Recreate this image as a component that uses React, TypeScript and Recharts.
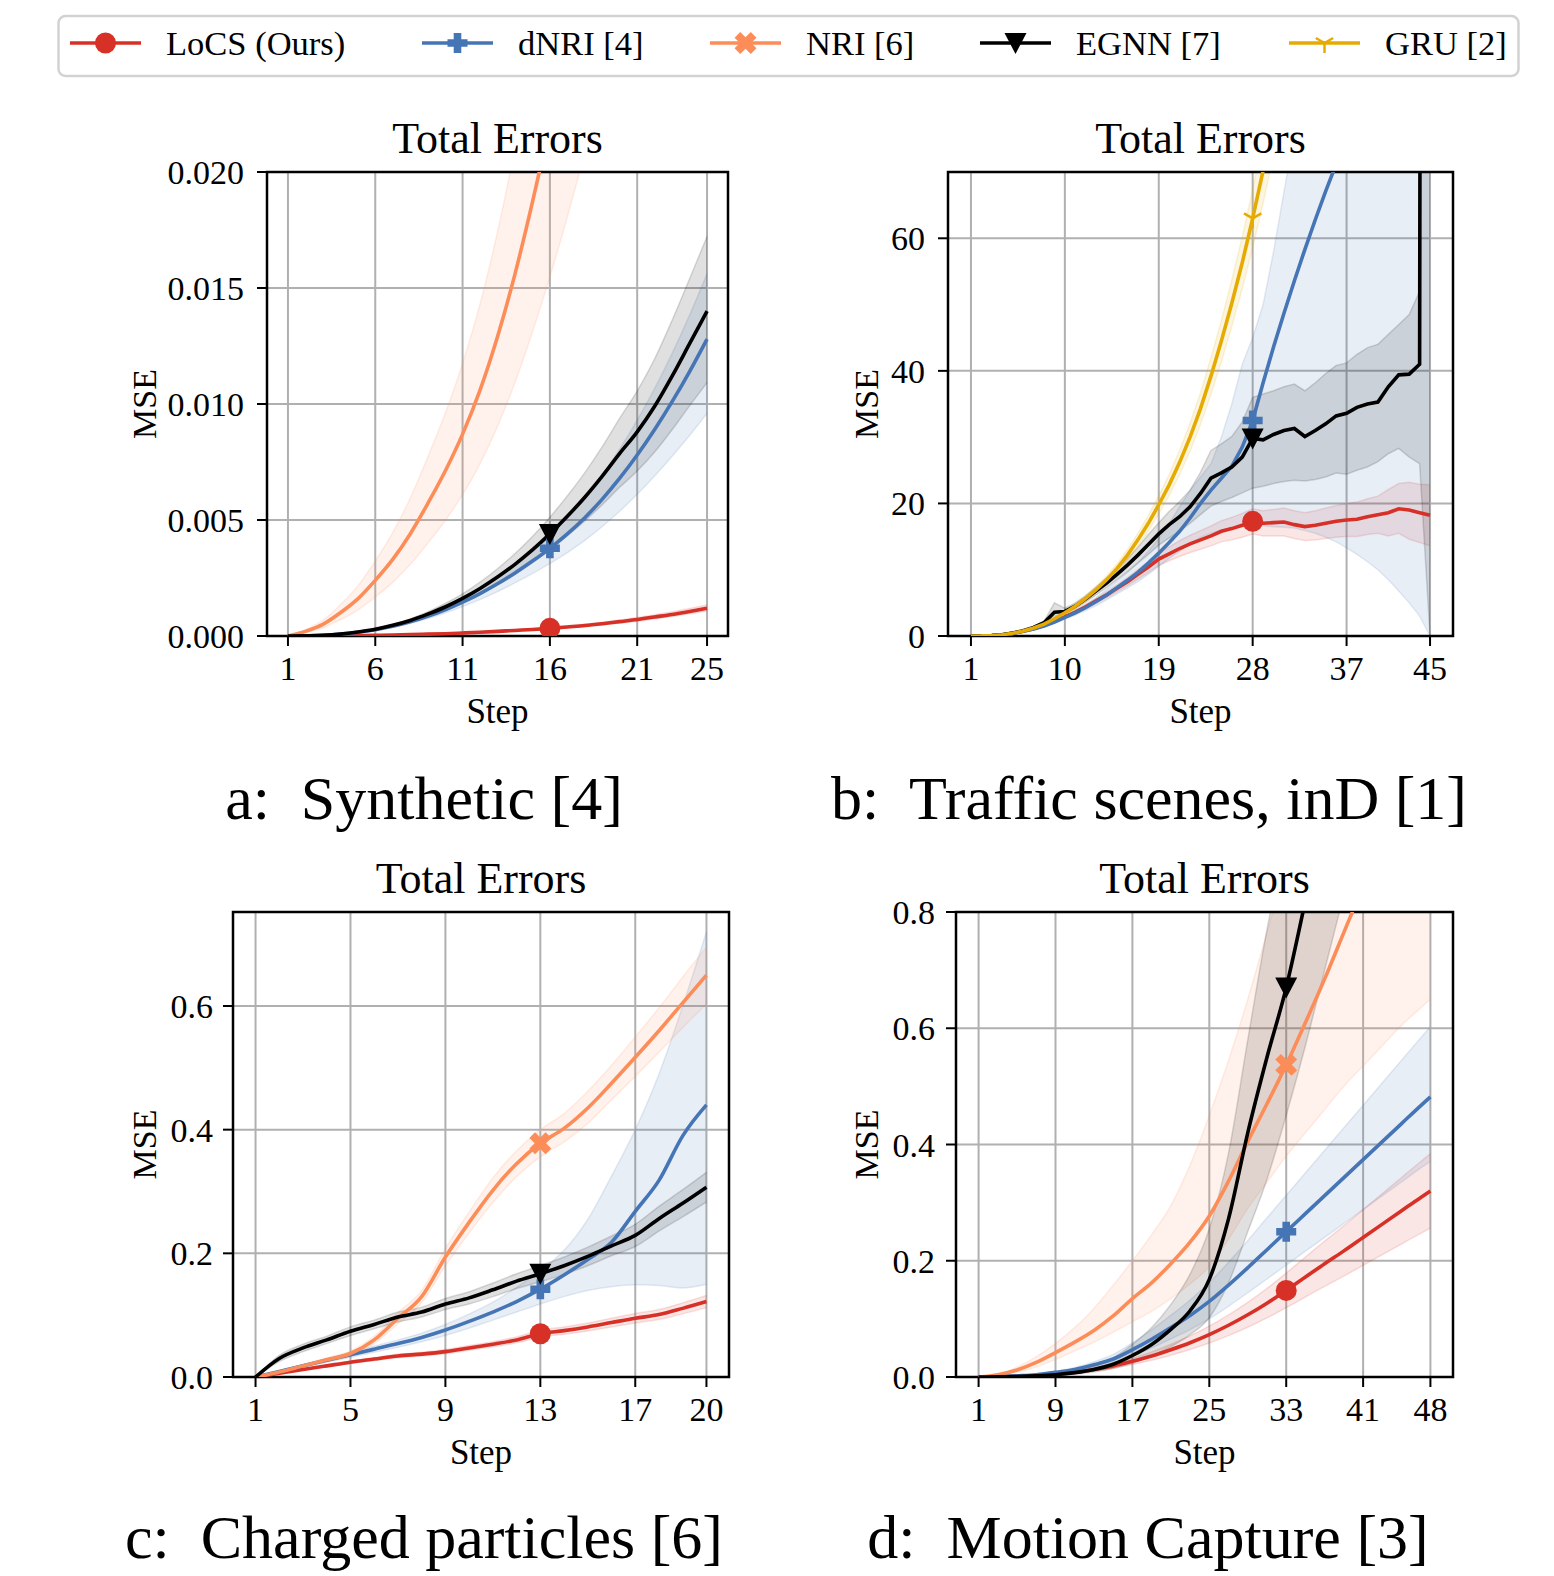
import React from "react";
import {
  Area,
  CartesianGrid,
  ComposedChart,
  Line,
  ReferenceArea,
  XAxis,
  YAxis
} from "recharts";

const FONT = "'Liberation Serif', 'DejaVu Serif', serif";

// ---- series look ----
const SERIES_KEYS = ["locs", "dnri", "nri", "egnn", "gru"];
const SERIES_NAMES = ["LoCS (Ours)", "dNRI [4]", "NRI [6]", "EGNN [7]", "GRU [2]"];
const SERIES_COLORS = ["#d73027", "#4575b4", "#fc8d59", "#000000", "#e6ab02"];
const SERIES_MARKERS = ["circle", "plus", "x", "tri", "y"];

// ---- a: Synthetic ----
const A_STEPS = [1, 2, 3, 4, 5, 6, 7, 8, 9, 10, 11, 12, 13, 14, 15, 16, 17, 18, 19, 20, 21, 22, 23, 24, 25];
const A_LOCS = [0, 0.000002, 0.000005, 0.00001, 0.000018, 0.00003, 0.000045, 0.00006, 0.00008, 0.0001, 0.00013, 0.00016, 0.0002, 0.00024, 0.00028, 0.00033, 0.00039, 0.00045, 0.00053, 0.00062, 0.00071, 0.00082, 0.00093, 0.00106, 0.0012];
const A_LOCS_LO = [0, 0.000002, 0.000004, 0.000009, 0.000016, 0.000027, 0.00004, 0.000054, 0.000072, 0.00009, 0.000117, 0.000144, 0.00018, 0.000216, 0.000252, 0.000297, 0.000351, 0.000405, 0.000477, 0.000558, 0.000639, 0.000738, 0.000837, 0.000954, 0.00108];
const A_LOCS_HI = [0, 0.000002, 0.000006, 0.000011, 0.00002, 0.000034, 0.00005, 0.000067, 0.00009, 0.000112, 0.000146, 0.000179, 0.000224, 0.000269, 0.000314, 0.00037, 0.000437, 0.000504, 0.000594, 0.000694, 0.000795, 0.000918, 0.00104, 0.00119, 0.00134];
const A_DNRI = [0, 0.00001, 0.00003, 0.00008, 0.00016, 0.00027, 0.00042, 0.00061, 0.00085, 0.00113, 0.00146, 0.00183, 0.00225, 0.00272, 0.00323, 0.00378, 0.0044, 0.0051, 0.0059, 0.0068, 0.0078, 0.0089, 0.0101, 0.0114, 0.0128];
const A_DNRI_LO = [0, 0.00001, 0.00003, 0.00007, 0.00015, 0.00025, 0.00038, 0.00054, 0.00075, 0.00099, 0.00127, 0.00157, 0.00191, 0.00229, 0.00269, 0.00312, 0.00359, 0.00412, 0.00472, 0.00538, 0.00611, 0.0069, 0.00775, 0.00864, 0.0096];
const A_DNRI_HI = [0, 0.00001, 0.00003, 0.00009, 0.00017, 0.00029, 0.00046, 0.00067, 0.00094, 0.00126, 0.00164, 0.00206, 0.00255, 0.00311, 0.00371, 0.00437, 0.00512, 0.00597, 0.00695, 0.00806, 0.0093, 0.01067, 0.01218, 0.01383, 0.01562];
const A_NRI = [0, 0.0002, 0.0005, 0.001, 0.0016, 0.0024, 0.0033, 0.0044, 0.0057, 0.0071, 0.0087, 0.0106, 0.0129, 0.0156, 0.0187, 0.0221, 0.0258, 0.0298, 0.0341, 0.0387, 0.0436, 0.0488, 0.0543, 0.0601, 0.0662];
const A_NRI_LO = [0, 0.00014, 0.00035, 0.0007, 0.00112, 0.00168, 0.00231, 0.00308, 0.00399, 0.00497, 0.00609, 0.00742, 0.00903, 0.01092, 0.01309, 0.01547, 0.01806, 0.02086, 0.02387, 0.02709, 0.03052, 0.03416, 0.03801, 0.04207, 0.04634];
const A_NRI_HI = [0, 0.00027, 0.00068, 0.00135, 0.00216, 0.00324, 0.00446, 0.00594, 0.0077, 0.00959, 0.01175, 0.01431, 0.01742, 0.02106, 0.02525, 0.02984, 0.03483, 0.04023, 0.04604, 0.05225, 0.05886, 0.06588, 0.0733, 0.08114, 0.08937];
const A_EGNN = [0, 0.00001, 0.00003, 0.00008, 0.00017, 0.00029, 0.00046, 0.00067, 0.00094, 0.00125, 0.00162, 0.00205, 0.00254, 0.00309, 0.00371, 0.0044, 0.00516, 0.00598, 0.00689, 0.00787, 0.0088, 0.0099, 0.0112, 0.0126, 0.014];
const A_EGNN_LO = [0, 0.00001, 0.00003, 0.00007, 0.00016, 0.00027, 0.00042, 0.0006, 0.00084, 0.00111, 0.00142, 0.00179, 0.0022, 0.00265, 0.00316, 0.00371, 0.00432, 0.00496, 0.00566, 0.00641, 0.00711, 0.00793, 0.00889, 0.00992, 0.01092];
const A_EGNN_HI = [0, 0.00001, 0.00003, 0.00009, 0.00018, 0.00032, 0.0005, 0.00074, 0.00104, 0.0014, 0.00182, 0.00232, 0.0029, 0.00355, 0.00429, 0.00512, 0.00604, 0.00704, 0.00816, 0.00939, 0.01056, 0.01195, 0.01361, 0.0154, 0.01722];

// ---- b: Traffic scenes ----
const B_STEPS = [1, 2, 3, 4, 5, 6, 7, 8, 9, 10, 11, 12, 13, 14, 15, 16, 17, 18, 19, 20, 21, 22, 23, 24, 25, 26, 27, 28, 29, 30, 31, 32, 33, 34, 35, 36, 37, 38, 39, 40, 41, 42, 43, 44, 45];
const B_LOCS = [0, 0.02, 0.08, 0.2, 0.4, 0.7, 1.1, 1.6, 2.2, 2.9, 3.6, 4.4, 5.3, 6.2, 7.2, 8.2, 9.3, 10.4, 11.6, 12.4, 13.2, 13.9, 14.5, 15.1, 15.8, 16.2, 16.7, 17.3, 17.0, 17.1, 17.2, 16.8, 16.5, 16.7, 17.0, 17.3, 17.5, 17.6, 18.0, 18.3, 18.6, 19.2, 19.0, 18.6, 18.2];
const B_LOCS_LO = [0, 0.02, 0.07, 0.19, 0.38, 0.66, 1.04, 1.5, 2.07, 2.72, 3.37, 4.1, 4.93, 5.75, 6.67, 7.58, 8.58, 9.57, 10.65, 11.35, 12.0, 12.6, 13.1, 13.6, 14.2, 14.5, 14.9, 15.4, 15.1, 15.1, 15.1, 14.7, 14.4, 14.5, 14.7, 14.9, 15.0, 15.0, 15.3, 15.5, 15.1, 15.5, 14.6, 14.1, 13.6];
const B_LOCS_HI = [0, 0.02, 0.09, 0.21, 0.42, 0.74, 1.16, 1.7, 2.33, 3.08, 3.83, 4.7, 5.67, 6.65, 7.73, 8.82, 10.02, 11.23, 12.55, 13.45, 14.4, 15.2, 15.9, 16.6, 17.4, 17.9, 18.5, 19.2, 18.9, 19.1, 19.3, 18.9, 18.6, 18.9, 19.3, 19.7, 20.0, 20.2, 20.7, 21.1, 22.1, 23.0, 23.2, 22.9, 22.8];
const B_DNRI = [0, 0.02, 0.07, 0.2, 0.4, 0.7, 1.05, 1.5, 2.1, 2.8, 3.5, 4.3, 5.2, 6.2, 7.3, 8.4, 9.6, 11.0, 12.5, 14.1, 15.8, 17.8, 20.0, 22.0, 23.8, 25.6, 28.5, 32.5, 38.2, 43.6, 48.7, 53.6, 58.3, 62.8, 67.1, 71.2, 75.2, 79.1, 82.9, 86.6, 90.2, 93.7, 97.1, 100.4, 103.6];
const B_DNRI_LO = [0, 0.02, 0.06, 0.18, 0.37, 0.64, 0.96, 1.37, 1.9, 2.53, 3.15, 3.85, 4.6, 5.45, 6.35, 7.25, 8.2, 9.3, 10.5, 11.7, 12.8, 13.9, 14.9, 15.5, 16.0, 16.3, 16.5, 16.6, 16.6, 16.5, 16.4, 16.3, 15.9, 15.5, 14.9, 14.2, 13.3, 12.3, 11.2, 10.0, 8.5, 6.8, 5.0, 3.0, 0];
const B_DNRI_HI = [0, 0.02, 0.08, 0.22, 0.44, 0.77, 1.15, 1.65, 2.3, 3.1, 3.9, 4.8, 5.8, 7.0, 8.3, 9.6, 11.1, 12.8, 14.7, 17.0, 19.5, 22.0, 24.0, 26.0, 30.0, 35.0, 41.0, 45.0, 50.0, 58.0, 67.0, 76.0, 85.0, 94.0, 103.0, 112.0, 121.0, 130.0, 139.0, 148.0, 157.0, 166.0, 175.0, 184.0, 193.0];
const B_EGNN = [0, 0.02, 0.08, 0.2, 0.45, 0.8, 1.3, 2.0, 3.6, 3.7, 4.5, 5.6, 6.8, 8.0, 9.3, 10.7, 12.2, 13.8, 15.4, 16.8, 18.0, 19.5, 21.5, 23.8, 24.6, 25.5, 27.0, 29.8, 29.6, 30.4, 31.0, 31.3, 30.1, 31.0, 32.0, 33.2, 33.6, 34.5, 35.0, 35.3, 37.6, 39.4, 39.5, 41.0, 1000];
const B_EGNN_LO = [0, 0.02, 0.07, 0.18, 0.41, 0.73, 1.2, 1.85, 3.0, 3.3, 4.1, 5.1, 6.2, 7.3, 8.5, 9.7, 11.0, 12.3, 13.7, 14.8, 15.8, 17.0, 18.3, 19.6, 20.3, 20.9, 21.6, 22.3, 22.6, 23.0, 23.3, 23.5, 23.4, 23.6, 24.0, 24.6, 24.4, 25.0, 25.5, 26.3, 27.5, 28.3, 27.0, 26.0, 0];
const B_EGNN_HI = [0, 0.02, 0.09, 0.22, 0.5, 0.88, 1.42, 2.2, 5.0, 4.2, 5.0, 6.1, 7.4, 8.7, 10.1, 11.7, 13.4, 15.3, 17.1, 18.8, 20.3, 22.0, 24.7, 28.0, 29.0, 30.1, 32.3, 36.0, 36.5, 37.0, 37.6, 38.0, 37.0, 38.2, 39.6, 40.8, 41.2, 42.5, 43.5, 44.0, 45.5, 47.0, 48.5, 52.0, 2000];
const B_GRU = [0, 0.02, 0.08, 0.2, 0.4, 0.75, 1.2, 1.8, 2.6, 3.5, 4.5, 5.7, 7.0, 8.5, 10.2, 12.2, 14.5, 17.0, 19.8, 22.8, 26.2, 30.0, 34.3, 39.2, 44.5, 50.2, 56.3, 63.0, 70.2, 78, 86.5, 95.5, 105, 115, 126, 137, 149, 161, 174, 187, 201, 215, 230, 245, 261];
const B_GRU_LO = [0, 0.02, 0.07, 0.19, 0.37, 0.7, 1.12, 1.67, 2.42, 3.26, 4.19, 5.3, 6.51, 7.9, 9.49, 11.35, 13.49, 15.81, 18.41, 21.2, 24.37, 27.9, 31.9, 36.46, 41.39, 46.69, 52.36, 58.59, 65.29, 72.54, 80.45, 88.8, 97.7, 107, 117, 127, 139, 150, 162, 174, 187, 200, 214, 228, 243];
const B_GRU_HI = [0, 0.02, 0.09, 0.21, 0.43, 0.8, 1.28, 1.93, 2.78, 3.75, 4.82, 6.1, 7.49, 9.1, 10.91, 13.05, 15.52, 18.19, 21.19, 24.4, 28.03, 32.1, 36.7, 41.94, 47.62, 53.71, 60.24, 67.41, 75.11, 83.46, 92.56, 102.2, 112.4, 123, 135, 147, 159, 172, 186, 200, 215, 230, 246, 262, 279];

// ---- c: Charged particles ----
const C_STEPS = [1, 2, 3, 4, 5, 6, 7, 8, 9, 10, 11, 12, 13, 14, 15, 16, 17, 18, 19, 20];
const C_LOCS = [0, 0.006, 0.012, 0.018, 0.024, 0.029, 0.034, 0.037, 0.041, 0.047, 0.053, 0.06, 0.07, 0.075, 0.081, 0.088, 0.095, 0.101, 0.111, 0.122];
const C_LOCS_LO = [0, 0.0055, 0.011, 0.0166, 0.0221, 0.0267, 0.0313, 0.034, 0.0377, 0.0432, 0.0488, 0.0552, 0.0644, 0.069, 0.0745, 0.081, 0.0874, 0.0929, 0.1021, 0.1122];
const C_LOCS_HI = [0, 0.0065, 0.013, 0.0194, 0.0259, 0.0313, 0.0367, 0.04, 0.0443, 0.0508, 0.0572, 0.0648, 0.0756, 0.081, 0.0875, 0.095, 0.1026, 0.1091, 0.1199, 0.1318];
const C_DNRI = [0, 0.009, 0.018, 0.027, 0.036, 0.045, 0.054, 0.064, 0.076, 0.09, 0.105, 0.122, 0.142, 0.165, 0.19, 0.218, 0.268, 0.318, 0.39, 0.44];
const C_DNRI_LO = [0, 0.008, 0.016, 0.024, 0.032, 0.04, 0.048, 0.057, 0.067, 0.079, 0.092, 0.105, 0.118, 0.13, 0.14, 0.146, 0.149, 0.148, 0.144, 0.15];
const C_DNRI_HI = [0, 0.01, 0.02, 0.03, 0.04, 0.05, 0.06, 0.071, 0.085, 0.102, 0.121, 0.145, 0.172, 0.205, 0.255, 0.325, 0.4, 0.49, 0.6, 0.72];
const C_NRI = [0, 0.008, 0.018, 0.028, 0.038, 0.06, 0.095, 0.13, 0.194, 0.25, 0.302, 0.345, 0.378, 0.402, 0.435, 0.475, 0.517, 0.56, 0.605, 0.65];
const C_NRI_LO = [0, 0.007, 0.016, 0.025, 0.034, 0.054, 0.086, 0.12, 0.18, 0.233, 0.282, 0.324, 0.356, 0.38, 0.41, 0.448, 0.486, 0.525, 0.565, 0.603];
const C_NRI_HI = [0, 0.009, 0.02, 0.031, 0.042, 0.066, 0.104, 0.14, 0.208, 0.267, 0.322, 0.366, 0.4, 0.426, 0.462, 0.504, 0.55, 0.597, 0.647, 0.695];
const C_EGNN = [0, 0.03, 0.047, 0.06, 0.074, 0.085, 0.097, 0.105, 0.118, 0.128, 0.141, 0.155, 0.167, 0.18, 0.195, 0.212, 0.229, 0.256, 0.281, 0.307];
const C_EGNN_LO = [0, 0.025, 0.041, 0.054, 0.067, 0.078, 0.089, 0.097, 0.109, 0.118, 0.13, 0.143, 0.154, 0.166, 0.18, 0.196, 0.211, 0.236, 0.259, 0.283];
const C_EGNN_HI = [0, 0.035, 0.053, 0.066, 0.081, 0.092, 0.105, 0.113, 0.127, 0.138, 0.152, 0.167, 0.18, 0.194, 0.21, 0.228, 0.247, 0.276, 0.303, 0.331];

// ---- d: Motion Capture ----
const D_STEPS = [1, 3, 5, 7, 9, 11, 13, 15, 17, 19, 21, 23, 25, 27, 29, 31, 33, 35, 37, 39, 41, 43, 45, 47, 48];
const D_LOCS = [0, 0.0003, 0.001, 0.0025, 0.005, 0.008, 0.013, 0.019, 0.027, 0.036, 0.047, 0.059, 0.073, 0.089, 0.107, 0.127, 0.149, 0.172, 0.195, 0.217, 0.24, 0.263, 0.286, 0.309, 0.32];
const D_LOCS_LO = [0, 0.0002, 0.0008, 0.002, 0.004, 0.0064, 0.0104, 0.0152, 0.0216, 0.0288, 0.0376, 0.0472, 0.0584, 0.0712, 0.0856, 0.1016, 0.1192, 0.1376, 0.156, 0.1736, 0.192, 0.2104, 0.2288, 0.2472, 0.256];
const D_LOCS_HI = [0, 0.0004, 0.0012, 0.003, 0.006, 0.0096, 0.0156, 0.0228, 0.0324, 0.0432, 0.0564, 0.0708, 0.0876, 0.1068, 0.1284, 0.1524, 0.1788, 0.2064, 0.234, 0.2604, 0.288, 0.3156, 0.3432, 0.3708, 0.384];
const D_DNRI = [0, 0.0005, 0.002, 0.004, 0.008, 0.013, 0.021, 0.031, 0.047, 0.065, 0.085, 0.106, 0.13, 0.158, 0.188, 0.219, 0.25, 0.281, 0.312, 0.343, 0.374, 0.405, 0.436, 0.467, 0.482];
const D_DNRI_LO = [0, 0.0004, 0.0015, 0.0031, 0.0062, 0.01, 0.0162, 0.0239, 0.0362, 0.05, 0.0655, 0.0816, 0.1001, 0.1217, 0.1448, 0.1686, 0.1925, 0.2164, 0.2402, 0.2641, 0.288, 0.3119, 0.3357, 0.3596, 0.3711];
const D_DNRI_HI = [0, 0.0006, 0.0025, 0.005, 0.01, 0.0163, 0.0263, 0.0388, 0.0588, 0.0813, 0.1063, 0.1325, 0.1625, 0.1975, 0.235, 0.2738, 0.3125, 0.3513, 0.39, 0.4288, 0.4675, 0.5063, 0.545, 0.5838, 0.6025];
const D_NRI = [0, 0.004, 0.012, 0.025, 0.042, 0.06, 0.08, 0.105, 0.135, 0.162, 0.195, 0.232, 0.277, 0.337, 0.405, 0.47, 0.537, 0.61, 0.685, 0.765, 0.845, 0.93, 1.015, 1.1, 1.145];
const D_NRI_LO = [0, 0.003, 0.008, 0.017, 0.03, 0.045, 0.06, 0.077, 0.095, 0.113, 0.135, 0.16, 0.19, 0.237, 0.29, 0.335, 0.38, 0.42, 0.46, 0.5, 0.535, 0.57, 0.605, 0.635, 0.65];
const D_NRI_HI = [0, 0.005, 0.017, 0.035, 0.058, 0.085, 0.118, 0.158, 0.2, 0.245, 0.295, 0.365, 0.45, 0.545, 0.65, 0.765, 0.88, 1.0, 1.12, 1.24, 1.36, 1.48, 1.6, 1.72, 1.78];
const D_EGNN = [0, 0.0002, 0.0008, 0.002, 0.004, 0.0075, 0.013, 0.022, 0.037, 0.056, 0.082, 0.114, 0.168, 0.272, 0.42, 0.55, 0.67, 0.82, 0.98, 1.15, 1.33, 1.52, 1.72, 1.93, 2.04];
const D_EGNN_LO = [0, 0.0001, 0.0005, 0.0013, 0.0027, 0.005, 0.0087, 0.0145, 0.024, 0.036, 0.052, 0.073, 0.102, 0.162, 0.25, 0.34, 0.45, 0.57, 0.7, 0.83, 0.96, 1.1, 1.24, 1.39, 1.47];
const D_EGNN_HI = [0, 0.0003, 0.0012, 0.003, 0.006, 0.011, 0.019, 0.033, 0.056, 0.085, 0.125, 0.177, 0.255, 0.385, 0.58, 0.77, 0.93, 1.1, 1.28, 1.47, 1.7, 1.93, 2.18, 2.45, 2.6];

const CAPTIONS = ["a:  Synthetic [4]", "b:  Traffic scenes, inD [1]", "c:  Charged particles [6]", "d:  Motion Capture [3]"];

type Band = { key: string; values: number[]; lo: number[]; hi: number[] };

type Panel = {
  left: number;
  top: number;
  width: number;
  height: number;
  steps: number[];
  xDomain: [number, number];
  xTicks: number[];
  yMax: number;
  yTicks: number[];
  yDigits: number;
  yGap: number;
  markStep: number;
  curve: "monotone" | "linear";
  mseX: number;
  capX: number;
  capY: number;
  series: Band[];
};

const PANELS: Panel[] = [
  {
    left: 267, top: 172, width: 461, height: 464,
    steps: A_STEPS, xDomain: [-0.2, 26.2], xTicks: [1, 6, 11, 16, 21, 25],
    yMax: 0.02, yTicks: [0, 0.005, 0.01, 0.015, 0.02], yDigits: 3, yGap: 13,
    markStep: 16, curve: "monotone", mseX: 156, capX: 424, capY: 819,
    series: [
      { key: "locs", values: A_LOCS, lo: A_LOCS_LO, hi: A_LOCS_HI },
      { key: "dnri", values: A_DNRI, lo: A_DNRI_LO, hi: A_DNRI_HI },
      { key: "nri", values: A_NRI, lo: A_NRI_LO, hi: A_NRI_HI },
      { key: "egnn", values: A_EGNN, lo: A_EGNN_LO, hi: A_EGNN_HI }
    ]
  },
  {
    left: 948, top: 172, width: 505, height: 464,
    steps: B_STEPS, xDomain: [-1.2, 47.2], xTicks: [1, 10, 19, 28, 37, 45],
    yMax: 70, yTicks: [0, 20, 40, 60], yDigits: 0, yGap: 13,
    markStep: 28, curve: "linear", mseX: 878, capX: 1149, capY: 819,
    series: [
      { key: "locs", values: B_LOCS, lo: B_LOCS_LO, hi: B_LOCS_HI },
      { key: "dnri", values: B_DNRI, lo: B_DNRI_LO, hi: B_DNRI_HI },
      { key: "egnn", values: B_EGNN, lo: B_EGNN_LO, hi: B_EGNN_HI },
      { key: "gru", values: B_GRU, lo: B_GRU_LO, hi: B_GRU_HI }
    ]
  },
  {
    left: 233, top: 912, width: 496, height: 465,
    steps: C_STEPS, xDomain: [0.05, 20.95], xTicks: [1, 5, 9, 13, 17, 20],
    yMax: 0.752, yTicks: [0, 0.2, 0.4, 0.6], yDigits: 1, yGap: 10,
    markStep: 13, curve: "monotone", mseX: 156, capX: 424, capY: 1558,
    series: [
      { key: "locs", values: C_LOCS, lo: C_LOCS_LO, hi: C_LOCS_HI },
      { key: "dnri", values: C_DNRI, lo: C_DNRI_LO, hi: C_DNRI_HI },
      { key: "nri", values: C_NRI, lo: C_NRI_LO, hi: C_NRI_HI },
      { key: "egnn", values: C_EGNN, lo: C_EGNN_LO, hi: C_EGNN_HI }
    ]
  },
  {
    left: 956, top: 912, width: 497, height: 465,
    steps: D_STEPS, xDomain: [-1.35, 50.35], xTicks: [1, 9, 17, 25, 33, 41, 48],
    yMax: 0.8, yTicks: [0, 0.2, 0.4, 0.6, 0.8], yDigits: 1, yGap: 11,
    markStep: 33, curve: "monotone", mseX: 878, capX: 1148, capY: 1558,
    series: [
      { key: "locs", values: D_LOCS, lo: D_LOCS_LO, hi: D_LOCS_HI },
      { key: "dnri", values: D_DNRI, lo: D_DNRI_LO, hi: D_DNRI_HI },
      { key: "nri", values: D_NRI, lo: D_NRI_LO, hi: D_NRI_HI },
      { key: "egnn", values: D_EGNN, lo: D_EGNN_LO, hi: D_EGNN_HI }
    ]
  }
];

const Y_W = 150;
const X_H = 60;
const M_TOP = 30;
const M_RIGHT = 20;

function styleOf(key: string) {
  const i = SERIES_KEYS.indexOf(key);
  return { color: SERIES_COLORS[i], marker: SERIES_MARKERS[i], name: SERIES_NAMES[i] };
}

function plusPoints(cx: number, cy: number, h: number, a: number) {
  const p = [
    [-a, -h], [a, -h], [a, -a], [h, -a], [h, a], [a, a],
    [a, h], [-a, h], [-a, a], [-h, a], [-h, -a], [-a, -a]
  ];
  return p.map(([x, y]) => `${cx + x},${cy + y}`).join(" ");
}

function Marker({ kind, cx, cy, color }: { kind: string; cx: number; cy: number; color: string }) {
  if (kind === "circle") return <circle cx={cx} cy={cy} r={10.5} fill={color} />;
  if (kind === "plus") return <polygon points={plusPoints(cx, cy, 10, 3.8)} fill={color} />;
  if (kind === "x")
    return (
      <polygon
        points={plusPoints(cx, cy, 11.5, 4)}
        fill={color}
        transform={`rotate(45 ${cx} ${cy})`}
      />
    );
  if (kind === "tri")
    return (
      <polygon
        points={`${cx - 11},${cy - 10} ${cx + 11},${cy - 10} ${cx},${cy + 11}`}
        fill={color}
      />
    );
  const r = 10;
  return (
    <g stroke={color} strokeWidth={2.5} fill="none">
      <line x1={cx} y1={cy} x2={cx} y2={cy + r} />
      <line x1={cx} y1={cy} x2={cx - 0.87 * r} y2={cy - 0.5 * r} />
      <line x1={cx} y1={cy} x2={cx + 0.87 * r} y2={cy - 0.5 * r} />
    </g>
  );
}

function makeDot(kind: string, color: string, markStep: number) {
  return (props: any) => {
    const { cx, cy, payload, index } = props;
    if (!payload || payload.step !== markStep || cx == null || cy == null) {
      return <g key={`dot-${index}`} />;
    }
    return (
      <g key={`dot-${index}`}>
        <Marker kind={kind} cx={cx} cy={cy} color={color} />
      </g>
    );
  };
}

function buildRows(p: Panel) {
  return p.steps.map((step, i) => {
    const row: Record<string, any> = { step };
    p.series.forEach((s) => {
      row[s.key] = s.values[i];
      row[s.key + "Band"] = [s.lo[i], s.hi[i]];
    });
    return row;
  });
}

const tickStyle = { fontFamily: FONT, fontSize: 34, fill: "#000" };

function PanelChart({ p }: { p: Panel }) {
  const rows = buildRows(p);
  return (
    <div style={{ position: "absolute", left: p.left - Y_W, top: p.top - M_TOP }}>
      <ComposedChart
        width={Y_W + p.width + M_RIGHT}
        height={M_TOP + p.height + X_H}
        data={rows}
        margin={{ top: M_TOP, right: M_RIGHT, left: 0, bottom: 0 }}
      >
        <CartesianGrid stroke="#b0b0b0" strokeWidth={2} />
        <XAxis
          dataKey="step"
          type="number"
          domain={p.xDomain}
          ticks={p.xTicks}
          interval={0}
          allowDataOverflow
          axisLine={false}
          tickLine={{ stroke: "#000", strokeWidth: 2 }}
          tickSize={10}
          tickMargin={10}
          height={X_H}
          tick={tickStyle}
        />
        <YAxis
          type="number"
          domain={[0, p.yMax]}
          ticks={p.yTicks}
          interval={0}
          allowDataOverflow
          width={Y_W}
          axisLine={false}
          tickLine={{ stroke: "#000", strokeWidth: 2 }}
          tickSize={10}
          tickMargin={p.yGap}
          tickFormatter={(v: number) => v.toFixed(p.yDigits)}
          tick={tickStyle}
        />
        {p.series.map((s) => {
          const st = styleOf(s.key);
          return (
            <Area
              key={s.key + "Band"}
              dataKey={s.key + "Band"}
              type={p.curve}
              fill={st.color}
              fillOpacity={0.12}
              stroke={st.color}
              strokeOpacity={0.14}
              strokeWidth={1.5}
              isAnimationActive={false}
              activeDot={false}
              dot={false}
            />
          );
        })}
        {p.series.map((s) => {
          const st = styleOf(s.key);
          return (
            <Line
              key={s.key}
              dataKey={s.key}
              type={p.curve}
              stroke={st.color}
              strokeWidth={3.6}
              dot={makeDot(st.marker, st.color, p.markStep)}
              activeDot={false}
              isAnimationActive={false}
            />
          );
        })}
        <ReferenceArea
          x1={p.xDomain[0]}
          x2={p.xDomain[1]}
          y1={0}
          y2={p.yMax}
          fill="none"
          fillOpacity={0}
          stroke="#000"
          strokeWidth={2.5}
          ifOverflow="visible"
        />
      </ComposedChart>
    </div>
  );
}

const LEGEND_LINE_X = [70, 422, 710, 980, 1289];

function Overlay() {
  return (
    <svg
      width={1554}
      height={1576}
      style={{ position: "absolute", left: 0, top: 0 }}
      fontFamily={FONT}
    >
      <rect x={58.5} y={16} width={1460} height={60} rx={7} fill="#fff" stroke="#d2d2d2" strokeWidth={2.5} />
      {SERIES_NAMES.map((name, i) => {
        const x0 = LEGEND_LINE_X[i];
        return (
          <g key={name}>
            <line x1={x0} y1={43} x2={x0 + 71} y2={43} stroke={SERIES_COLORS[i]} strokeWidth={3.6} />
            <Marker kind={SERIES_MARKERS[i]} cx={x0 + 35.5} cy={43} color={SERIES_COLORS[i]} />
            <text x={x0 + 96} y={54.5} fontSize={34.5} fill="#000">
              {name}
            </text>
          </g>
        );
      })}
      {PANELS.map((p, i) => {
        const cx = p.left + p.width / 2;
        const cy = p.top + p.height / 2;
        return (
          <g key={i}>
            <text x={cx} y={p.top - 19} fontSize={44} textAnchor="middle" fill="#000">
              Total Errors
            </text>
            <text x={cx} y={p.top + p.height + 87} fontSize={35} textAnchor="middle" fill="#000">
              Step
            </text>
            <text
              x={p.mseX}
              y={cy}
              fontSize={34}
              textAnchor="middle"
              fill="#000"
              transform={`rotate(-90 ${p.mseX} ${cy})`}
            >
              MSE
            </text>
            <text
              x={p.capX}
              y={p.capY}
              fontSize={62}
              textAnchor="middle"
              fill="#000"
              style={{ whiteSpace: "pre" }}
            >
              {CAPTIONS[i]}
            </text>
          </g>
        );
      })}
    </svg>
  );
}

export default function App() {
  return (
    <div
      style={{
        position: "absolute",
        left: 0,
        top: 0,
        width: 1554,
        height: 1576,
        background: "#fff",
        overflow: "hidden"
      }}
    >
      <Overlay />
      {PANELS.map((p, i) => (
        <PanelChart key={i} p={p} />
      ))}
    </div>
  );
}
